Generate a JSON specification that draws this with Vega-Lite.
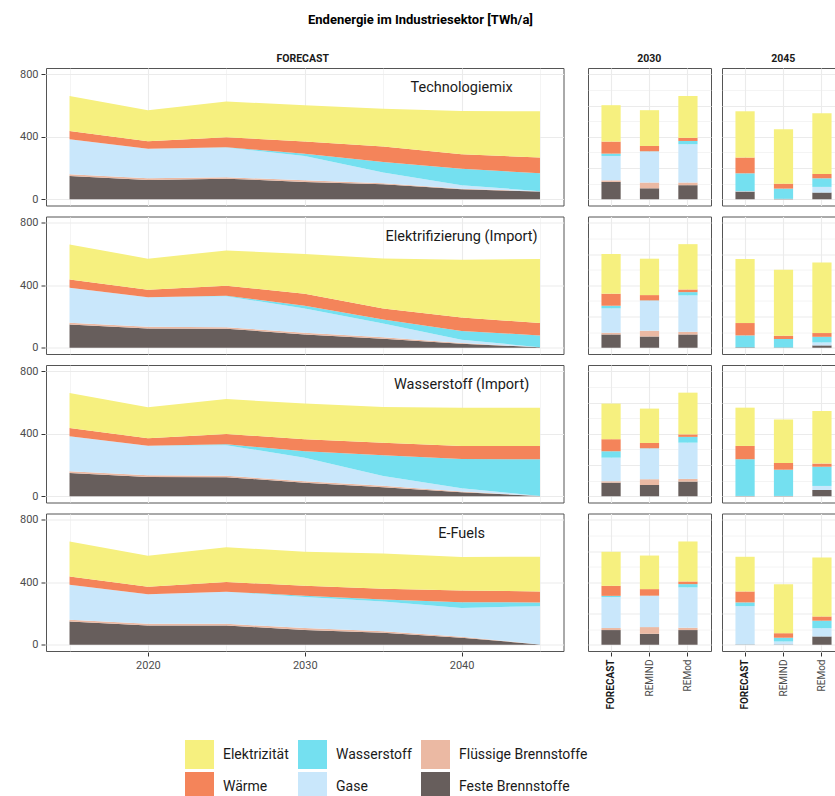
{
  "$schema": "https://vega.github.io/schema/vega-lite/v6.json",
  "background": "white",
  "padding": {"left": 19, "top": 14, "right": 0, "bottom": 0},
  "title": {"text": "Endenergie im Industriesektor [TWh/a]", "font": "Roboto", "fontSize": 13, "fontWeight": "bold", "color": "#000000", "anchor": "middle", "offset": 26.75, "dx": -12},
  "config": {
    "font": "Roboto",
    "view": {"stroke": "#555555", "strokeWidth": 1},
    "axis": {"labelFont": "Roboto", "labelColor": "#4d4d4d", "labelFontSize": 11, "tickColor": "#333333", "tickSize": 4, "tickWidth": 1, "gridColor": "#ebebeb", "domain": false, "labelPadding": 3},
    "legend": {"labelFont": "Roboto"}
  },
  "datasets": {
    "ord": [
      {"c": "Feste Brennstoffe", "k": 1},
      {"c": "Flüssige Brennstoffe", "k": 2},
      {"c": "Gase", "k": 3},
      {"c": "Wasserstoff", "k": 4},
      {"c": "Wärme", "k": 5},
      {"c": "Elektrizität", "k": 6}
    ],
    "d": [
      {"s":"Technologiemix","y":2015,"m":"FORECAST","c":"Feste Brennstoffe","v":149},
      {"s":"Technologiemix","y":2015,"m":"FORECAST","c":"Flüssige Brennstoffe","v":11},
      {"s":"Technologiemix","y":2015,"m":"FORECAST","c":"Gase","v":224},
      {"s":"Technologiemix","y":2015,"m":"FORECAST","c":"Wasserstoff","v":0},
      {"s":"Technologiemix","y":2015,"m":"FORECAST","c":"Wärme","v":53},
      {"s":"Technologiemix","y":2015,"m":"FORECAST","c":"Elektrizität","v":224},
      {"s":"Technologiemix","y":2020,"m":"FORECAST","c":"Feste Brennstoffe","v":124},
      {"s":"Technologiemix","y":2020,"m":"FORECAST","c":"Flüssige Brennstoffe","v":10},
      {"s":"Technologiemix","y":2020,"m":"FORECAST","c":"Gase","v":190},
      {"s":"Technologiemix","y":2020,"m":"FORECAST","c":"Wasserstoff","v":0},
      {"s":"Technologiemix","y":2020,"m":"FORECAST","c":"Wärme","v":47},
      {"s":"Technologiemix","y":2020,"m":"FORECAST","c":"Elektrizität","v":199},
      {"s":"Technologiemix","y":2025,"m":"FORECAST","c":"Feste Brennstoffe","v":132},
      {"s":"Technologiemix","y":2025,"m":"FORECAST","c":"Flüssige Brennstoffe","v":9},
      {"s":"Technologiemix","y":2025,"m":"FORECAST","c":"Gase","v":190},
      {"s":"Technologiemix","y":2025,"m":"FORECAST","c":"Wasserstoff","v":2},
      {"s":"Technologiemix","y":2025,"m":"FORECAST","c":"Wärme","v":64},
      {"s":"Technologiemix","y":2025,"m":"FORECAST","c":"Elektrizität","v":228},
      {"s":"Technologiemix","y":2030,"m":"FORECAST","c":"Feste Brennstoffe","v":111},
      {"s":"Technologiemix","y":2030,"m":"FORECAST","c":"Flüssige Brennstoffe","v":10},
      {"s":"Technologiemix","y":2030,"m":"FORECAST","c":"Gase","v":156},
      {"s":"Technologiemix","y":2030,"m":"FORECAST","c":"Wasserstoff","v":15},
      {"s":"Technologiemix","y":2030,"m":"FORECAST","c":"Wärme","v":77},
      {"s":"Technologiemix","y":2030,"m":"FORECAST","c":"Elektrizität","v":233},
      {"s":"Technologiemix","y":2035,"m":"FORECAST","c":"Feste Brennstoffe","v":96},
      {"s":"Technologiemix","y":2035,"m":"FORECAST","c":"Flüssige Brennstoffe","v":6},
      {"s":"Technologiemix","y":2035,"m":"FORECAST","c":"Gase","v":69},
      {"s":"Technologiemix","y":2035,"m":"FORECAST","c":"Wasserstoff","v":68},
      {"s":"Technologiemix","y":2035,"m":"FORECAST","c":"Wärme","v":98},
      {"s":"Technologiemix","y":2035,"m":"FORECAST","c":"Elektrizität","v":243},
      {"s":"Technologiemix","y":2040,"m":"FORECAST","c":"Feste Brennstoffe","v":64},
      {"s":"Technologiemix","y":2040,"m":"FORECAST","c":"Flüssige Brennstoffe","v":4},
      {"s":"Technologiemix","y":2040,"m":"FORECAST","c":"Gase","v":22},
      {"s":"Technologiemix","y":2040,"m":"FORECAST","c":"Wasserstoff","v":106},
      {"s":"Technologiemix","y":2040,"m":"FORECAST","c":"Wärme","v":92},
      {"s":"Technologiemix","y":2040,"m":"FORECAST","c":"Elektrizität","v":277},
      {"s":"Technologiemix","y":2045,"m":"FORECAST","c":"Feste Brennstoffe","v":49},
      {"s":"Technologiemix","y":2045,"m":"FORECAST","c":"Flüssige Brennstoffe","v":1},
      {"s":"Technologiemix","y":2045,"m":"FORECAST","c":"Gase","v":2},
      {"s":"Technologiemix","y":2045,"m":"FORECAST","c":"Wasserstoff","v":114},
      {"s":"Technologiemix","y":2045,"m":"FORECAST","c":"Wärme","v":101},
      {"s":"Technologiemix","y":2045,"m":"FORECAST","c":"Elektrizität","v":296},
      {"s":"Technologiemix","y":2030,"m":"REMIND","c":"Feste Brennstoffe","v":70},
      {"s":"Technologiemix","y":2030,"m":"REMIND","c":"Flüssige Brennstoffe","v":37},
      {"s":"Technologiemix","y":2030,"m":"REMIND","c":"Gase","v":198},
      {"s":"Technologiemix","y":2030,"m":"REMIND","c":"Wasserstoff","v":2},
      {"s":"Technologiemix","y":2030,"m":"REMIND","c":"Wärme","v":34},
      {"s":"Technologiemix","y":2030,"m":"REMIND","c":"Elektrizität","v":229},
      {"s":"Technologiemix","y":2030,"m":"REMod","c":"Feste Brennstoffe","v":90},
      {"s":"Technologiemix","y":2030,"m":"REMod","c":"Flüssige Brennstoffe","v":17},
      {"s":"Technologiemix","y":2030,"m":"REMod","c":"Gase","v":245},
      {"s":"Technologiemix","y":2030,"m":"REMod","c":"Wasserstoff","v":21},
      {"s":"Technologiemix","y":2030,"m":"REMod","c":"Wärme","v":20},
      {"s":"Technologiemix","y":2030,"m":"REMod","c":"Elektrizität","v":268},
      {"s":"Technologiemix","y":2045,"m":"REMIND","c":"Feste Brennstoffe","v":3},
      {"s":"Technologiemix","y":2045,"m":"REMIND","c":"Flüssige Brennstoffe","v":0},
      {"s":"Technologiemix","y":2045,"m":"REMIND","c":"Gase","v":0},
      {"s":"Technologiemix","y":2045,"m":"REMIND","c":"Wasserstoff","v":65},
      {"s":"Technologiemix","y":2045,"m":"REMIND","c":"Wärme","v":32},
      {"s":"Technologiemix","y":2045,"m":"REMIND","c":"Elektrizität","v":348},
      {"s":"Technologiemix","y":2045,"m":"REMod","c":"Feste Brennstoffe","v":43},
      {"s":"Technologiemix","y":2045,"m":"REMod","c":"Flüssige Brennstoffe","v":0},
      {"s":"Technologiemix","y":2045,"m":"REMod","c":"Gase","v":36},
      {"s":"Technologiemix","y":2045,"m":"REMod","c":"Wasserstoff","v":55},
      {"s":"Technologiemix","y":2045,"m":"REMod","c":"Wärme","v":28},
      {"s":"Technologiemix","y":2045,"m":"REMod","c":"Elektrizität","v":388},

      {"s":"Elektrifizierung (Import)","y":2015,"m":"FORECAST","c":"Feste Brennstoffe","v":149},
      {"s":"Elektrifizierung (Import)","y":2015,"m":"FORECAST","c":"Flüssige Brennstoffe","v":11},
      {"s":"Elektrifizierung (Import)","y":2015,"m":"FORECAST","c":"Gase","v":224},
      {"s":"Elektrifizierung (Import)","y":2015,"m":"FORECAST","c":"Wasserstoff","v":0},
      {"s":"Elektrifizierung (Import)","y":2015,"m":"FORECAST","c":"Wärme","v":53},
      {"s":"Elektrifizierung (Import)","y":2015,"m":"FORECAST","c":"Elektrizität","v":224},
      {"s":"Elektrifizierung (Import)","y":2020,"m":"FORECAST","c":"Feste Brennstoffe","v":124},
      {"s":"Elektrifizierung (Import)","y":2020,"m":"FORECAST","c":"Flüssige Brennstoffe","v":10},
      {"s":"Elektrifizierung (Import)","y":2020,"m":"FORECAST","c":"Gase","v":190},
      {"s":"Elektrifizierung (Import)","y":2020,"m":"FORECAST","c":"Wasserstoff","v":0},
      {"s":"Elektrifizierung (Import)","y":2020,"m":"FORECAST","c":"Wärme","v":47},
      {"s":"Elektrifizierung (Import)","y":2020,"m":"FORECAST","c":"Elektrizität","v":199},
      {"s":"Elektrifizierung (Import)","y":2025,"m":"FORECAST","c":"Feste Brennstoffe","v":122},
      {"s":"Elektrifizierung (Import)","y":2025,"m":"FORECAST","c":"Flüssige Brennstoffe","v":9},
      {"s":"Elektrifizierung (Import)","y":2025,"m":"FORECAST","c":"Gase","v":198},
      {"s":"Elektrifizierung (Import)","y":2025,"m":"FORECAST","c":"Wasserstoff","v":4},
      {"s":"Elektrifizierung (Import)","y":2025,"m":"FORECAST","c":"Wärme","v":64},
      {"s":"Elektrifizierung (Import)","y":2025,"m":"FORECAST","c":"Elektrizität","v":226},
      {"s":"Elektrifizierung (Import)","y":2030,"m":"FORECAST","c":"Feste Brennstoffe","v":85},
      {"s":"Elektrifizierung (Import)","y":2030,"m":"FORECAST","c":"Flüssige Brennstoffe","v":11},
      {"s":"Elektrifizierung (Import)","y":2030,"m":"FORECAST","c":"Gase","v":156},
      {"s":"Elektrifizierung (Import)","y":2030,"m":"FORECAST","c":"Wasserstoff","v":17},
      {"s":"Elektrifizierung (Import)","y":2030,"m":"FORECAST","c":"Wärme","v":77},
      {"s":"Elektrifizierung (Import)","y":2030,"m":"FORECAST","c":"Elektrizität","v":254},
      {"s":"Elektrifizierung (Import)","y":2035,"m":"FORECAST","c":"Feste Brennstoffe","v":58},
      {"s":"Elektrifizierung (Import)","y":2035,"m":"FORECAST","c":"Flüssige Brennstoffe","v":9},
      {"s":"Elektrifizierung (Import)","y":2035,"m":"FORECAST","c":"Gase","v":88},
      {"s":"Elektrifizierung (Import)","y":2035,"m":"FORECAST","c":"Wasserstoff","v":26},
      {"s":"Elektrifizierung (Import)","y":2035,"m":"FORECAST","c":"Wärme","v":71},
      {"s":"Elektrifizierung (Import)","y":2035,"m":"FORECAST","c":"Elektrizität","v":320},
      {"s":"Elektrifizierung (Import)","y":2040,"m":"FORECAST","c":"Feste Brennstoffe","v":26},
      {"s":"Elektrifizierung (Import)","y":2040,"m":"FORECAST","c":"Flüssige Brennstoffe","v":4},
      {"s":"Elektrifizierung (Import)","y":2040,"m":"FORECAST","c":"Gase","v":22},
      {"s":"Elektrifizierung (Import)","y":2040,"m":"FORECAST","c":"Wasserstoff","v":55},
      {"s":"Elektrifizierung (Import)","y":2040,"m":"FORECAST","c":"Wärme","v":87},
      {"s":"Elektrifizierung (Import)","y":2040,"m":"FORECAST","c":"Elektrizität","v":369},
      {"s":"Elektrifizierung (Import)","y":2045,"m":"FORECAST","c":"Feste Brennstoffe","v":3},
      {"s":"Elektrifizierung (Import)","y":2045,"m":"FORECAST","c":"Flüssige Brennstoffe","v":0},
      {"s":"Elektrifizierung (Import)","y":2045,"m":"FORECAST","c":"Gase","v":0},
      {"s":"Elektrifizierung (Import)","y":2045,"m":"FORECAST","c":"Wasserstoff","v":76},
      {"s":"Elektrifizierung (Import)","y":2045,"m":"FORECAST","c":"Wärme","v":79},
      {"s":"Elektrifizierung (Import)","y":2045,"m":"FORECAST","c":"Elektrizität","v":410},
      {"s":"Elektrifizierung (Import)","y":2030,"m":"REMIND","c":"Feste Brennstoffe","v":72},
      {"s":"Elektrifizierung (Import)","y":2030,"m":"REMIND","c":"Flüssige Brennstoffe","v":37},
      {"s":"Elektrifizierung (Import)","y":2030,"m":"REMIND","c":"Gase","v":192},
      {"s":"Elektrifizierung (Import)","y":2030,"m":"REMIND","c":"Wasserstoff","v":2},
      {"s":"Elektrifizierung (Import)","y":2030,"m":"REMIND","c":"Wärme","v":34},
      {"s":"Elektrifizierung (Import)","y":2030,"m":"REMIND","c":"Elektrizität","v":233},
      {"s":"Elektrifizierung (Import)","y":2030,"m":"REMod","c":"Feste Brennstoffe","v":85},
      {"s":"Elektrifizierung (Import)","y":2030,"m":"REMod","c":"Flüssige Brennstoffe","v":17},
      {"s":"Elektrifizierung (Import)","y":2030,"m":"REMod","c":"Gase","v":233},
      {"s":"Elektrifizierung (Import)","y":2030,"m":"REMod","c":"Wasserstoff","v":21},
      {"s":"Elektrifizierung (Import)","y":2030,"m":"REMod","c":"Wärme","v":17},
      {"s":"Elektrifizierung (Import)","y":2030,"m":"REMod","c":"Elektrizität","v":290},
      {"s":"Elektrifizierung (Import)","y":2045,"m":"REMIND","c":"Feste Brennstoffe","v":2},
      {"s":"Elektrifizierung (Import)","y":2045,"m":"REMIND","c":"Flüssige Brennstoffe","v":0},
      {"s":"Elektrifizierung (Import)","y":2045,"m":"REMIND","c":"Gase","v":0},
      {"s":"Elektrifizierung (Import)","y":2045,"m":"REMIND","c":"Wasserstoff","v":54},
      {"s":"Elektrifizierung (Import)","y":2045,"m":"REMIND","c":"Wärme","v":21},
      {"s":"Elektrifizierung (Import)","y":2045,"m":"REMIND","c":"Elektrizität","v":422},
      {"s":"Elektrifizierung (Import)","y":2045,"m":"REMod","c":"Feste Brennstoffe","v":15},
      {"s":"Elektrifizierung (Import)","y":2045,"m":"REMod","c":"Flüssige Brennstoffe","v":0},
      {"s":"Elektrifizierung (Import)","y":2045,"m":"REMod","c":"Gase","v":19},
      {"s":"Elektrifizierung (Import)","y":2045,"m":"REMod","c":"Wasserstoff","v":36},
      {"s":"Elektrifizierung (Import)","y":2045,"m":"REMod","c":"Wärme","v":24},
      {"s":"Elektrifizierung (Import)","y":2045,"m":"REMod","c":"Elektrizität","v":452},

      {"s":"Wasserstoff (Import)","y":2015,"m":"FORECAST","c":"Feste Brennstoffe","v":149},
      {"s":"Wasserstoff (Import)","y":2015,"m":"FORECAST","c":"Flüssige Brennstoffe","v":11},
      {"s":"Wasserstoff (Import)","y":2015,"m":"FORECAST","c":"Gase","v":224},
      {"s":"Wasserstoff (Import)","y":2015,"m":"FORECAST","c":"Wasserstoff","v":0},
      {"s":"Wasserstoff (Import)","y":2015,"m":"FORECAST","c":"Wärme","v":53},
      {"s":"Wasserstoff (Import)","y":2015,"m":"FORECAST","c":"Elektrizität","v":224},
      {"s":"Wasserstoff (Import)","y":2020,"m":"FORECAST","c":"Feste Brennstoffe","v":124},
      {"s":"Wasserstoff (Import)","y":2020,"m":"FORECAST","c":"Flüssige Brennstoffe","v":10},
      {"s":"Wasserstoff (Import)","y":2020,"m":"FORECAST","c":"Gase","v":190},
      {"s":"Wasserstoff (Import)","y":2020,"m":"FORECAST","c":"Wasserstoff","v":0},
      {"s":"Wasserstoff (Import)","y":2020,"m":"FORECAST","c":"Wärme","v":47},
      {"s":"Wasserstoff (Import)","y":2020,"m":"FORECAST","c":"Elektrizität","v":199},
      {"s":"Wasserstoff (Import)","y":2025,"m":"FORECAST","c":"Feste Brennstoffe","v":122},
      {"s":"Wasserstoff (Import)","y":2025,"m":"FORECAST","c":"Flüssige Brennstoffe","v":9},
      {"s":"Wasserstoff (Import)","y":2025,"m":"FORECAST","c":"Gase","v":196},
      {"s":"Wasserstoff (Import)","y":2025,"m":"FORECAST","c":"Wasserstoff","v":6},
      {"s":"Wasserstoff (Import)","y":2025,"m":"FORECAST","c":"Wärme","v":66},
      {"s":"Wasserstoff (Import)","y":2025,"m":"FORECAST","c":"Elektrizität","v":223},
      {"s":"Wasserstoff (Import)","y":2030,"m":"FORECAST","c":"Feste Brennstoffe","v":87},
      {"s":"Wasserstoff (Import)","y":2030,"m":"FORECAST","c":"Flüssige Brennstoffe","v":9},
      {"s":"Wasserstoff (Import)","y":2030,"m":"FORECAST","c":"Gase","v":151},
      {"s":"Wasserstoff (Import)","y":2030,"m":"FORECAST","c":"Wasserstoff","v":41},
      {"s":"Wasserstoff (Import)","y":2030,"m":"FORECAST","c":"Wärme","v":77},
      {"s":"Wasserstoff (Import)","y":2030,"m":"FORECAST","c":"Elektrizität","v":228},
      {"s":"Wasserstoff (Import)","y":2035,"m":"FORECAST","c":"Feste Brennstoffe","v":58},
      {"s":"Wasserstoff (Import)","y":2035,"m":"FORECAST","c":"Flüssige Brennstoffe","v":9},
      {"s":"Wasserstoff (Import)","y":2035,"m":"FORECAST","c":"Gase","v":62},
      {"s":"Wasserstoff (Import)","y":2035,"m":"FORECAST","c":"Wasserstoff","v":133},
      {"s":"Wasserstoff (Import)","y":2035,"m":"FORECAST","c":"Wärme","v":80},
      {"s":"Wasserstoff (Import)","y":2035,"m":"FORECAST","c":"Elektrizität","v":230},
      {"s":"Wasserstoff (Import)","y":2040,"m":"FORECAST","c":"Feste Brennstoffe","v":26},
      {"s":"Wasserstoff (Import)","y":2040,"m":"FORECAST","c":"Flüssige Brennstoffe","v":4},
      {"s":"Wasserstoff (Import)","y":2040,"m":"FORECAST","c":"Gase","v":22},
      {"s":"Wasserstoff (Import)","y":2040,"m":"FORECAST","c":"Wasserstoff","v":186},
      {"s":"Wasserstoff (Import)","y":2040,"m":"FORECAST","c":"Wärme","v":84},
      {"s":"Wasserstoff (Import)","y":2040,"m":"FORECAST","c":"Elektrizität","v":244},
      {"s":"Wasserstoff (Import)","y":2045,"m":"FORECAST","c":"Feste Brennstoffe","v":2},
      {"s":"Wasserstoff (Import)","y":2045,"m":"FORECAST","c":"Flüssige Brennstoffe","v":0},
      {"s":"Wasserstoff (Import)","y":2045,"m":"FORECAST","c":"Gase","v":0},
      {"s":"Wasserstoff (Import)","y":2045,"m":"FORECAST","c":"Wasserstoff","v":235},
      {"s":"Wasserstoff (Import)","y":2045,"m":"FORECAST","c":"Wärme","v":85},
      {"s":"Wasserstoff (Import)","y":2045,"m":"FORECAST","c":"Elektrizität","v":245},
      {"s":"Wasserstoff (Import)","y":2030,"m":"REMIND","c":"Feste Brennstoffe","v":72},
      {"s":"Wasserstoff (Import)","y":2030,"m":"REMIND","c":"Flüssige Brennstoffe","v":37},
      {"s":"Wasserstoff (Import)","y":2030,"m":"REMIND","c":"Gase","v":196},
      {"s":"Wasserstoff (Import)","y":2030,"m":"REMIND","c":"Wasserstoff","v":2},
      {"s":"Wasserstoff (Import)","y":2030,"m":"REMIND","c":"Wärme","v":34},
      {"s":"Wasserstoff (Import)","y":2030,"m":"REMIND","c":"Elektrizität","v":220},
      {"s":"Wasserstoff (Import)","y":2030,"m":"REMod","c":"Feste Brennstoffe","v":94},
      {"s":"Wasserstoff (Import)","y":2030,"m":"REMod","c":"Flüssige Brennstoffe","v":17},
      {"s":"Wasserstoff (Import)","y":2030,"m":"REMod","c":"Gase","v":232},
      {"s":"Wasserstoff (Import)","y":2030,"m":"REMod","c":"Wasserstoff","v":37},
      {"s":"Wasserstoff (Import)","y":2030,"m":"REMod","c":"Wärme","v":16},
      {"s":"Wasserstoff (Import)","y":2030,"m":"REMod","c":"Elektrizität","v":267},
      {"s":"Wasserstoff (Import)","y":2045,"m":"REMIND","c":"Feste Brennstoffe","v":2},
      {"s":"Wasserstoff (Import)","y":2045,"m":"REMIND","c":"Flüssige Brennstoffe","v":0},
      {"s":"Wasserstoff (Import)","y":2045,"m":"REMIND","c":"Gase","v":0},
      {"s":"Wasserstoff (Import)","y":2045,"m":"REMIND","c":"Wasserstoff","v":168},
      {"s":"Wasserstoff (Import)","y":2045,"m":"REMIND","c":"Wärme","v":43},
      {"s":"Wasserstoff (Import)","y":2045,"m":"REMIND","c":"Elektrizität","v":279},
      {"s":"Wasserstoff (Import)","y":2045,"m":"REMod","c":"Feste Brennstoffe","v":40},
      {"s":"Wasserstoff (Import)","y":2045,"m":"REMod","c":"Flüssige Brennstoffe","v":0},
      {"s":"Wasserstoff (Import)","y":2045,"m":"REMod","c":"Gase","v":26},
      {"s":"Wasserstoff (Import)","y":2045,"m":"REMod","c":"Wasserstoff","v":123},
      {"s":"Wasserstoff (Import)","y":2045,"m":"REMod","c":"Wärme","v":20},
      {"s":"Wasserstoff (Import)","y":2045,"m":"REMod","c":"Elektrizität","v":337},

      {"s":"E-Fuels","y":2015,"m":"FORECAST","c":"Feste Brennstoffe","v":149},
      {"s":"E-Fuels","y":2015,"m":"FORECAST","c":"Flüssige Brennstoffe","v":11},
      {"s":"E-Fuels","y":2015,"m":"FORECAST","c":"Gase","v":224},
      {"s":"E-Fuels","y":2015,"m":"FORECAST","c":"Wasserstoff","v":0},
      {"s":"E-Fuels","y":2015,"m":"FORECAST","c":"Wärme","v":53},
      {"s":"E-Fuels","y":2015,"m":"FORECAST","c":"Elektrizität","v":224},
      {"s":"E-Fuels","y":2020,"m":"FORECAST","c":"Feste Brennstoffe","v":124},
      {"s":"E-Fuels","y":2020,"m":"FORECAST","c":"Flüssige Brennstoffe","v":10},
      {"s":"E-Fuels","y":2020,"m":"FORECAST","c":"Gase","v":190},
      {"s":"E-Fuels","y":2020,"m":"FORECAST","c":"Wasserstoff","v":0},
      {"s":"E-Fuels","y":2020,"m":"FORECAST","c":"Wärme","v":47},
      {"s":"E-Fuels","y":2020,"m":"FORECAST","c":"Elektrizität","v":199},
      {"s":"E-Fuels","y":2025,"m":"FORECAST","c":"Feste Brennstoffe","v":124},
      {"s":"E-Fuels","y":2025,"m":"FORECAST","c":"Flüssige Brennstoffe","v":10},
      {"s":"E-Fuels","y":2025,"m":"FORECAST","c":"Gase","v":206},
      {"s":"E-Fuels","y":2025,"m":"FORECAST","c":"Wasserstoff","v":0},
      {"s":"E-Fuels","y":2025,"m":"FORECAST","c":"Wärme","v":62},
      {"s":"E-Fuels","y":2025,"m":"FORECAST","c":"Elektrizität","v":222},
      {"s":"E-Fuels","y":2030,"m":"FORECAST","c":"Feste Brennstoffe","v":94},
      {"s":"E-Fuels","y":2030,"m":"FORECAST","c":"Flüssige Brennstoffe","v":13},
      {"s":"E-Fuels","y":2030,"m":"FORECAST","c":"Gase","v":198},
      {"s":"E-Fuels","y":2030,"m":"FORECAST","c":"Wasserstoff","v":8},
      {"s":"E-Fuels","y":2030,"m":"FORECAST","c":"Wärme","v":64},
      {"s":"E-Fuels","y":2030,"m":"FORECAST","c":"Elektrizität","v":218},
      {"s":"E-Fuels","y":2035,"m":"FORECAST","c":"Feste Brennstoffe","v":77},
      {"s":"E-Fuels","y":2035,"m":"FORECAST","c":"Flüssige Brennstoffe","v":9},
      {"s":"E-Fuels","y":2035,"m":"FORECAST","c":"Gase","v":191},
      {"s":"E-Fuels","y":2035,"m":"FORECAST","c":"Wasserstoff","v":13},
      {"s":"E-Fuels","y":2035,"m":"FORECAST","c":"Wärme","v":68},
      {"s":"E-Fuels","y":2035,"m":"FORECAST","c":"Elektrizität","v":226},
      {"s":"E-Fuels","y":2040,"m":"FORECAST","c":"Feste Brennstoffe","v":45},
      {"s":"E-Fuels","y":2040,"m":"FORECAST","c":"Flüssige Brennstoffe","v":7},
      {"s":"E-Fuels","y":2040,"m":"FORECAST","c":"Gase","v":184},
      {"s":"E-Fuels","y":2040,"m":"FORECAST","c":"Wasserstoff","v":36},
      {"s":"E-Fuels","y":2040,"m":"FORECAST","c":"Wärme","v":75},
      {"s":"E-Fuels","y":2040,"m":"FORECAST","c":"Elektrizität","v":215},
      {"s":"E-Fuels","y":2045,"m":"FORECAST","c":"Feste Brennstoffe","v":2},
      {"s":"E-Fuels","y":2045,"m":"FORECAST","c":"Flüssige Brennstoffe","v":0},
      {"s":"E-Fuels","y":2045,"m":"FORECAST","c":"Gase","v":245},
      {"s":"E-Fuels","y":2045,"m":"FORECAST","c":"Wasserstoff","v":24},
      {"s":"E-Fuels","y":2045,"m":"FORECAST","c":"Wärme","v":70},
      {"s":"E-Fuels","y":2045,"m":"FORECAST","c":"Elektrizität","v":222},
      {"s":"E-Fuels","y":2030,"m":"REMIND","c":"Feste Brennstoffe","v":70},
      {"s":"E-Fuels","y":2030,"m":"REMIND","c":"Flüssige Brennstoffe","v":43},
      {"s":"E-Fuels","y":2030,"m":"REMIND","c":"Gase","v":200},
      {"s":"E-Fuels","y":2030,"m":"REMIND","c":"Wasserstoff","v":1},
      {"s":"E-Fuels","y":2030,"m":"REMIND","c":"Wärme","v":42},
      {"s":"E-Fuels","y":2030,"m":"REMIND","c":"Elektrizität","v":215},
      {"s":"E-Fuels","y":2030,"m":"REMod","c":"Feste Brennstoffe","v":94},
      {"s":"E-Fuels","y":2030,"m":"REMod","c":"Flüssige Brennstoffe","v":15},
      {"s":"E-Fuels","y":2030,"m":"REMod","c":"Gase","v":258},
      {"s":"E-Fuels","y":2030,"m":"REMod","c":"Wasserstoff","v":21},
      {"s":"E-Fuels","y":2030,"m":"REMod","c":"Wärme","v":17},
      {"s":"E-Fuels","y":2030,"m":"REMod","c":"Elektrizität","v":256},
      {"s":"E-Fuels","y":2045,"m":"REMIND","c":"Feste Brennstoffe","v":2},
      {"s":"E-Fuels","y":2045,"m":"REMIND","c":"Flüssige Brennstoffe","v":0},
      {"s":"E-Fuels","y":2045,"m":"REMIND","c":"Gase","v":19},
      {"s":"E-Fuels","y":2045,"m":"REMIND","c":"Wasserstoff","v":24},
      {"s":"E-Fuels","y":2045,"m":"REMIND","c":"Wärme","v":29},
      {"s":"E-Fuels","y":2045,"m":"REMIND","c":"Elektrizität","v":314},
      {"s":"E-Fuels","y":2045,"m":"REMod","c":"Feste Brennstoffe","v":53},
      {"s":"E-Fuels","y":2045,"m":"REMod","c":"Flüssige Brennstoffe","v":0},
      {"s":"E-Fuels","y":2045,"m":"REMod","c":"Gase","v":53},
      {"s":"E-Fuels","y":2045,"m":"REMod","c":"Wasserstoff","v":48},
      {"s":"E-Fuels","y":2045,"m":"REMod","c":"Wärme","v":27},
      {"s":"E-Fuels","y":2045,"m":"REMod","c":"Elektrizität","v":378}
    ]
  },
  "spacing": 23,
  "hconcat": [
    {
      "data": {"name": "d"},
      "transform": [
        {"filter": "datum.m == 'FORECAST'"},
        {"lookup": "c", "from": {"data": {"name": "ord"}, "key": "c", "fields": ["k"]}}
      ],
      "title": {"text": "FORECAST", "fontSize": 10.5, "fontWeight": "bold", "color": "#1a1a1a", "anchor": "middle", "frame": "bounds", "offset": 3, "dx": 11},
      "facet": {"row": {"field": "s", "type": "nominal", "sort": ["Technologiemix", "Elektrifizierung (Import)", "Wasserstoff (Import)", "E-Fuels"], "header": null}},
      "spacing": 9.5,
      "spec": {
        "width": 517.5,
        "height": 137.5,
        "layer": [
          {
            "mark": {"type": "area"},
            "encoding": {
              "x": {"field": "y", "type": "quantitative", "scale": {"domain": [2013.5, 2046.5], "nice": false, "zero": false},
                "axis": {"title": null, "values": [2015, 2020, 2025, 2030, 2035, 2040, 2045], "format": "d", "labelFlush": false, "labelOverlap": false,
                  "labelExpr": "datum.value % 10 == 0 ? datum.label : ''",
                  "tickOpacity": {"condition": {"test": "datum.value % 10 == 0", "value": 1}, "value": 0},
                  "gridWidth": {"condition": {"test": "datum.value % 10 == 0", "value": 1.1}, "value": 0.55}}},
              "y": {"field": "v", "type": "quantitative", "stack": "zero", "scale": {"domain": [-40, 840], "nice": false, "zero": false},
                "axis": {"title": null, "values": [0, 100, 200, 300, 400, 500, 600, 700, 800], "labelOverlap": false,
                  "labelExpr": "datum.value % 200 == 0 ? datum.label : ''",
                  "tickOpacity": {"condition": {"test": "datum.value % 200 == 0", "value": 1}, "value": 0},
                  "gridWidth": {"condition": {"test": "datum.value % 200 == 0", "value": 1.1}, "value": 0.55}}},
              "color": {"field": "c", "type": "nominal",
                "scale": {"domain": ["Elektrizität", "Wärme", "Wasserstoff", "Gase", "Flüssige Brennstoffe", "Feste Brennstoffe"],
                  "range": ["#F6F07F", "#F4845A", "#74E0F0", "#C9E7FB", "#EBB9A3", "#675E5C"]},
                "legend": {"title": null, "orient": "none", "legendX": 139, "legendY": 672, "columns": 3, "symbolType": "square", "symbolSize": 841, "symbolStrokeWidth": 0, "labelFontSize": 14, "labelColor": "#1a1a1a", "labelOffset": 9, "rowPadding": 3, "columnPadding": 9, "padding": 0}},
              "order": {"field": "k", "type": "quantitative"}
            }
          },
          {
            "transform": [{"filter": "datum.c == 'Feste Brennstoffe' && datum.y == 2015"}],
            "mark": {"type": "text", "fontSize": 14.5, "color": "#1a1a1a", "align": "center", "baseline": "middle"},
            "encoding": {
              "x": {"datum": 2040, "type": "quantitative"},
              "y": {"datum": 712, "type": "quantitative"},
              "text": {"field": "s", "type": "nominal"}
            }
          }
        ]
      }
    },
    {
      "spacing": 9,
      "hconcat": [
        {
          "data": {"name": "d"},
          "transform": [
            {"filter": "datum.y == 2030"},
            {"lookup": "c", "from": {"data": {"name": "ord"}, "key": "c", "fields": ["k"]}}
          ],
          "title": {"text": "2030", "fontSize": 10.5, "fontWeight": "bold", "color": "#1a1a1a", "anchor": "middle", "frame": "bounds", "offset": 3},
          "facet": {"row": {"field": "s", "type": "nominal", "sort": ["Technologiemix", "Elektrifizierung (Import)", "Wasserstoff (Import)", "E-Fuels"], "header": null}},
          "spacing": 9.5,
          "spec": {
            "width": 123,
            "height": 137.5,
            "mark": {"type": "bar"},
            "encoding": {
              "x": {"field": "m", "type": "nominal", "scale": {"domain": ["FORECAST", "REMIND", "REMod"], "paddingInner": 0.5, "paddingOuter": 0.35},
                "axis": {"title": null, "labelAngle": -90, "labelFontSize": 10, "gridWidth": 1.1, "grid": true,
                  "labelFontWeight": {"condition": {"test": "datum.value == 'FORECAST'", "value": "bold"}, "value": "normal"},
                  "labelColor": {"condition": {"test": "datum.value == 'FORECAST'", "value": "#1a1a1a"}, "value": "#4d4d4d"}}},
              "y": {"field": "v", "type": "quantitative", "stack": "zero", "scale": {"domain": [-40, 840], "nice": false, "zero": false},
                "axis": {"title": null, "values": [0, 100, 200, 300, 400, 500, 600, 700, 800], "labels": false, "ticks": false,
                  "gridWidth": {"condition": {"test": "datum.value % 200 == 0", "value": 1.1}, "value": 0.55}}},
              "color": {"field": "c", "type": "nominal",
                "scale": {"domain": ["Elektrizität", "Wärme", "Wasserstoff", "Gase", "Flüssige Brennstoffe", "Feste Brennstoffe"],
                  "range": ["#F6F07F", "#F4845A", "#74E0F0", "#C9E7FB", "#EBB9A3", "#675E5C"]},
                "legend": {"title": null, "orient": "none", "legendX": 139, "legendY": 672, "columns": 3, "symbolType": "square", "symbolSize": 841, "symbolStrokeWidth": 0, "labelFontSize": 14, "labelColor": "#1a1a1a", "labelOffset": 9, "rowPadding": 3, "columnPadding": 9, "padding": 0}},
              "order": {"field": "k", "type": "quantitative"}
            }
          }
        },
        {
          "data": {"name": "d"},
          "transform": [
            {"filter": "datum.y == 2045"},
            {"lookup": "c", "from": {"data": {"name": "ord"}, "key": "c", "fields": ["k"]}}
          ],
          "title": {"text": "2045", "fontSize": 10.5, "fontWeight": "bold", "color": "#1a1a1a", "anchor": "middle", "frame": "bounds", "offset": 3},
          "facet": {"row": {"field": "s", "type": "nominal", "sort": ["Technologiemix", "Elektrifizierung (Import)", "Wasserstoff (Import)", "E-Fuels"], "header": null}},
          "spacing": 9.5,
          "spec": {
            "width": 123,
            "height": 137.5,
            "mark": {"type": "bar"},
            "encoding": {
              "x": {"field": "m", "type": "nominal", "scale": {"domain": ["FORECAST", "REMIND", "REMod"], "paddingInner": 0.5, "paddingOuter": 0.35},
                "axis": {"title": null, "labelAngle": -90, "labelFontSize": 10, "gridWidth": 1.1, "grid": true,
                  "labelFontWeight": {"condition": {"test": "datum.value == 'FORECAST'", "value": "bold"}, "value": "normal"},
                  "labelColor": {"condition": {"test": "datum.value == 'FORECAST'", "value": "#1a1a1a"}, "value": "#4d4d4d"}}},
              "y": {"field": "v", "type": "quantitative", "stack": "zero", "scale": {"domain": [-40, 840], "nice": false, "zero": false},
                "axis": {"title": null, "values": [0, 100, 200, 300, 400, 500, 600, 700, 800], "labels": false, "ticks": false,
                  "gridWidth": {"condition": {"test": "datum.value % 200 == 0", "value": 1.1}, "value": 0.55}}},
              "color": {"field": "c", "type": "nominal",
                "scale": {"domain": ["Elektrizität", "Wärme", "Wasserstoff", "Gase", "Flüssige Brennstoffe", "Feste Brennstoffe"],
                  "range": ["#F6F07F", "#F4845A", "#74E0F0", "#C9E7FB", "#EBB9A3", "#675E5C"]},
                "legend": {"title": null, "orient": "none", "legendX": 139, "legendY": 672, "columns": 3, "symbolType": "square", "symbolSize": 841, "symbolStrokeWidth": 0, "labelFontSize": 14, "labelColor": "#1a1a1a", "labelOffset": 9, "rowPadding": 3, "columnPadding": 9, "padding": 0}},
              "order": {"field": "k", "type": "quantitative"}
            }
          }
        }
      ]
    }
  ]
}
